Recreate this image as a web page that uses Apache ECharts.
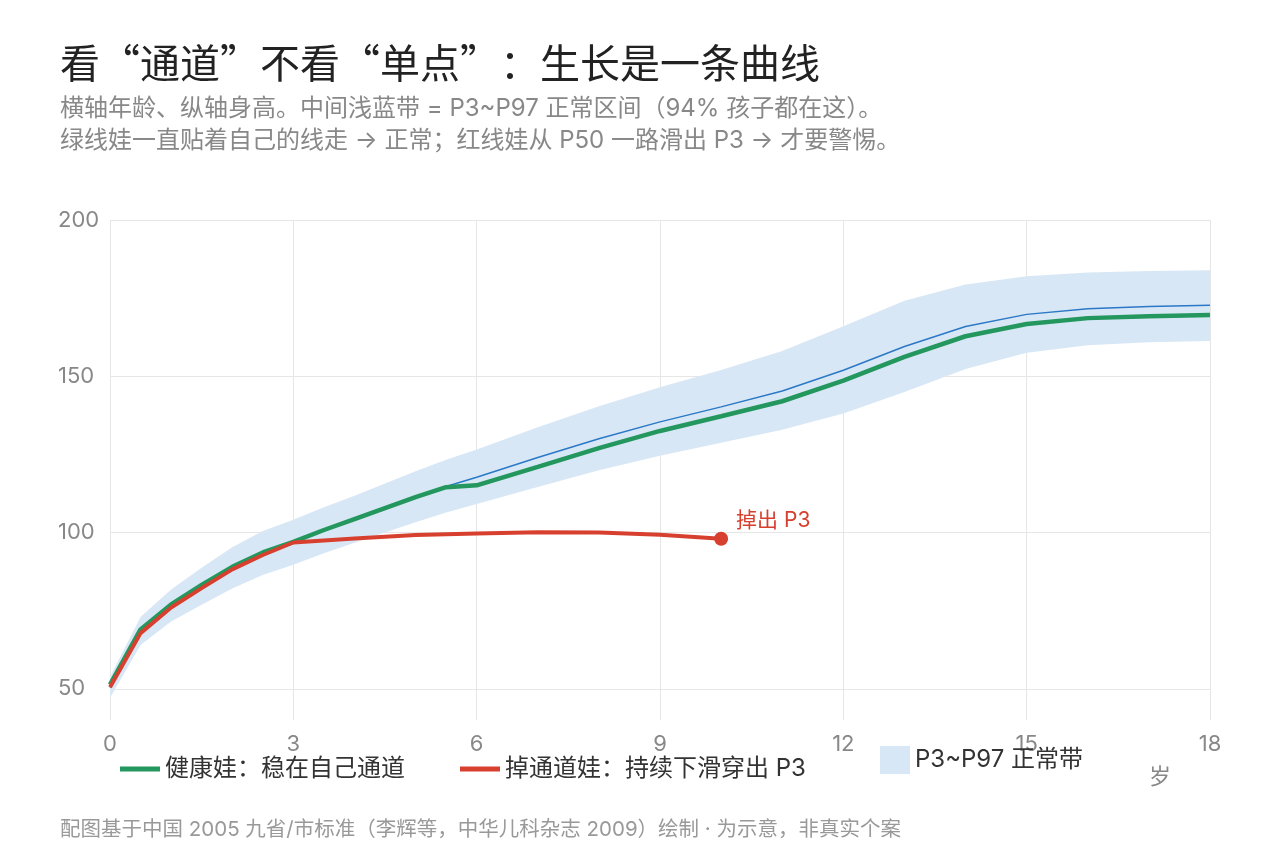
<!DOCTYPE html>
<html>
<head>
<meta charset="utf-8">
<title>生长曲线</title>
<script src="https://cdn.jsdelivr.net/npm/echarts@6/dist/echarts.min.js"></script>
<style>
  html, body { margin: 0; padding: 0; background: #fff; }
  #box { width: 1280px; height: 860px; }
</style>
</head>
<body>
<div id="box"></div>
<script>
// 年龄（岁）
var ages = [0, 0.5, 1, 1.5, 2, 2.5, 3, 3.5, 4, 4.5, 5, 5.5, 6, 7, 8, 9, 10, 11, 12, 13, 14, 15, 16, 17, 18];
// 2005 九省/市标准 男童身高 P3 / P50 / P97（cm）
var p3 = [47.1, 64.0, 71.5, 76.9, 82.1, 86.4, 89.7, 93.4, 96.7, 100.0, 103.3, 106.4, 109.1, 114.6, 119.9, 124.6, 128.7, 132.9, 138.1, 145.0, 152.3, 157.5, 159.9, 160.9, 161.3];
var p50 = [50.4, 68.4, 76.5, 82.7, 88.5, 93.3, 96.8, 100.6, 104.1, 107.7, 111.3, 114.7, 117.7, 124.0, 130.0, 135.4, 140.2, 145.3, 151.9, 159.5, 165.9, 169.8, 171.6, 172.3, 172.7];
var p97 = [53.8, 73.0, 81.8, 88.7, 95.3, 100.5, 104.1, 108.1, 111.8, 115.7, 119.6, 123.3, 126.6, 133.7, 140.4, 146.5, 152.0, 158.1, 166.0, 174.2, 179.4, 182.0, 183.2, 183.7, 183.9];
// 健康娃
var healthy = [51.3, 69.0, 77.0, 83.2, 89.0, 93.6, 97.0, 100.8, 104.3, 107.8, 111.3, 114.5, 115.1, 121.0, 127.0, 132.5, 137.2, 142.0, 148.6, 156.2, 162.8, 166.7, 168.6, 169.2, 169.6];
// 掉通道娃
var dropAges = [0, 0.5, 1, 1.5, 2, 2.5, 3, 4, 5, 6, 7, 8, 9, 10];
var dropped = [50.5, 67.8, 76.0, 82.2, 88.2, 92.8, 96.8, 98.1, 99.2, 99.7, 100.1, 100.0, 99.3, 98.0];

var GREEN = '#23975d';
var RED = '#d7402f';
var BLUE = '#2a78c6';
var BAND = '#d8e7f5';
var FONT = 'Inter, "Noto Sans CJK SC", sans-serif';
var CJK = '"Noto Sans CJK SC", sans-serif';

function pairs(xs, ys) {
  return xs.map(function (x, i) { return [x, ys[i]]; });
}

// 带状区：数据写成 [身高, 年龄]，让堆叠落在 y 维上
var bandLow = ages.map(function (a, i) { return [p3[i], a]; });
var bandDiff = ages.map(function (a, i) { return [+(p97[i] - p3[i]).toFixed(1), a]; });

var dropData = pairs(dropAges, dropped);
var last = dropData.length - 1;
dropData[last] = {
  value: dropData[last],
  symbol: 'circle',
  symbolSize: 14,
  itemStyle: { color: RED },
  label: {
    show: true,
    formatter: '掉出 P3',
    position: 'right',
    distance: 8,
    offset: [0, -18],
    color: RED,
    fontSize: 21,
    fontFamily: FONT
  }
};

var legendText = { fontSize: 24, color: '#333', fontFamily: FONT };

var myChart = echarts.init(document.getElementById('box'));
var option = {
  backgroundColor: '#fff',
  textStyle: { fontFamily: FONT },
  animation: false,
  title: [{
    text: '看“通道”不看“单点”：生长是一条曲线',
    subtext: '横轴年龄、纵轴身高。中间浅蓝带 = P3~P97 正常区间（94% 孩子都在这）。\n绿线娃一直贴着自己的线走 → 正常；红线娃从 P50 一路滑出 P3 → 才要警惕。',
    left: 60,
    top: 43,
    itemGap: 10,
    padding: 0,
    textStyle: { fontSize: 40, fontWeight: 'normal', color: '#222', fontFamily: CJK },
    subtextStyle: { fontSize: 24, color: '#888', lineHeight: 32, fontFamily: FONT }
  }, {
    text: '配图基于中国 2005 九省/市标准（李辉等，中华儿科杂志 2009）绘制 · 为示意，非真实个案',
    left: 60,
    top: 820,
    padding: 0,
    textStyle: { fontSize: 20.5, fontWeight: 'normal', color: '#999', fontFamily: FONT }
  }],
  legend: [{
    data: [{ name: '健康娃：稳在自己通道', icon: 'rect' }],
    left: 120, top: 757, itemWidth: 40, itemHeight: 5, padding: 0,
    textStyle: legendText
  }, {
    data: [{ name: '掉通道娃：持续下滑穿出 P3', icon: 'rect' }],
    left: 460, top: 757, itemWidth: 40, itemHeight: 5, padding: 0,
    textStyle: legendText
  }, {
    data: [{ name: 'P3~P97 正常带', icon: 'rect' }],
    left: 880, top: 746, itemWidth: 30, itemHeight: 28, padding: 0,
    textStyle: legendText
  }],
  grid: { left: 110, right: 70, top: 220, height: 500 },
  xAxis: {
    type: 'value',
    min: 0,
    max: 18,
    interval: 3,
    axisLine: { show: false },
    axisTick: { show: false },
    axisLabel: { fontSize: 22, color: '#888', margin: 13, fontFamily: FONT },
    splitLine: { show: true, lineStyle: { color: '#e6e6e6', width: 1 } }
  },
  yAxis: {
    type: 'value',
    min: 40,
    max: 200,
    interval: 10,
    axisLine: { show: false },
    axisTick: { show: false },
    axisLabel: {
      fontSize: 22, color: '#888', margin: 52, align: 'left', fontFamily: FONT,
      padding: [0, 0, 5, 0],
      formatter: function (v) { return v % 50 === 0 ? String(v) : ''; }
    },
    splitLine: {
      show: true,
      lineStyle: { color: ['rgba(0,0,0,0)', '#e6e6e6', 'rgba(0,0,0,0)', 'rgba(0,0,0,0)', 'rgba(0,0,0,0)'], width: 1 }
    }
  },
  graphic: [{
    type: 'text',
    left: 1149,
    top: 765,
    style: { text: '岁', fill: '#888', font: '22px "Noto Sans CJK SC"' }
  }],
  series: [{
    name: 'P3',
    type: 'line',
    data: bandLow,
    encode: { x: 1, y: 0 },
    stack: 'band',
    symbol: 'none',
    lineStyle: { width: 0, opacity: 0 },
    silent: true,
    z: 1
  }, {
    name: 'P3~P97 正常带',
    type: 'line',
    data: bandDiff,
    encode: { x: 1, y: 0 },
    stack: 'band',
    symbol: 'none',
    itemStyle: { color: BAND },
    lineStyle: { width: 0, opacity: 0 },
    areaStyle: { color: BAND, opacity: 1 },
    silent: true,
    z: 1
  }, {
    name: 'P50',
    type: 'line',
    data: pairs(ages, p50),
    symbol: 'none',
    lineStyle: { color: BLUE, width: 1.5 },
    itemStyle: { color: BLUE },
    z: 2
  }, {
    name: '健康娃：稳在自己通道',
    type: 'line',
    data: pairs(ages, healthy),
    symbol: 'none',
    lineStyle: { color: GREEN, width: 4.5 },
    itemStyle: { color: GREEN },
    z: 3
  }, {
    name: '掉通道娃：持续下滑穿出 P3',
    type: 'line',
    data: dropData,
    symbol: 'none',
    lineStyle: { color: RED, width: 4 },
    itemStyle: { color: RED },
    z: 4
  }]
};

myChart.clear();
myChart.setOption(option);
</script>
</body>
</html>
